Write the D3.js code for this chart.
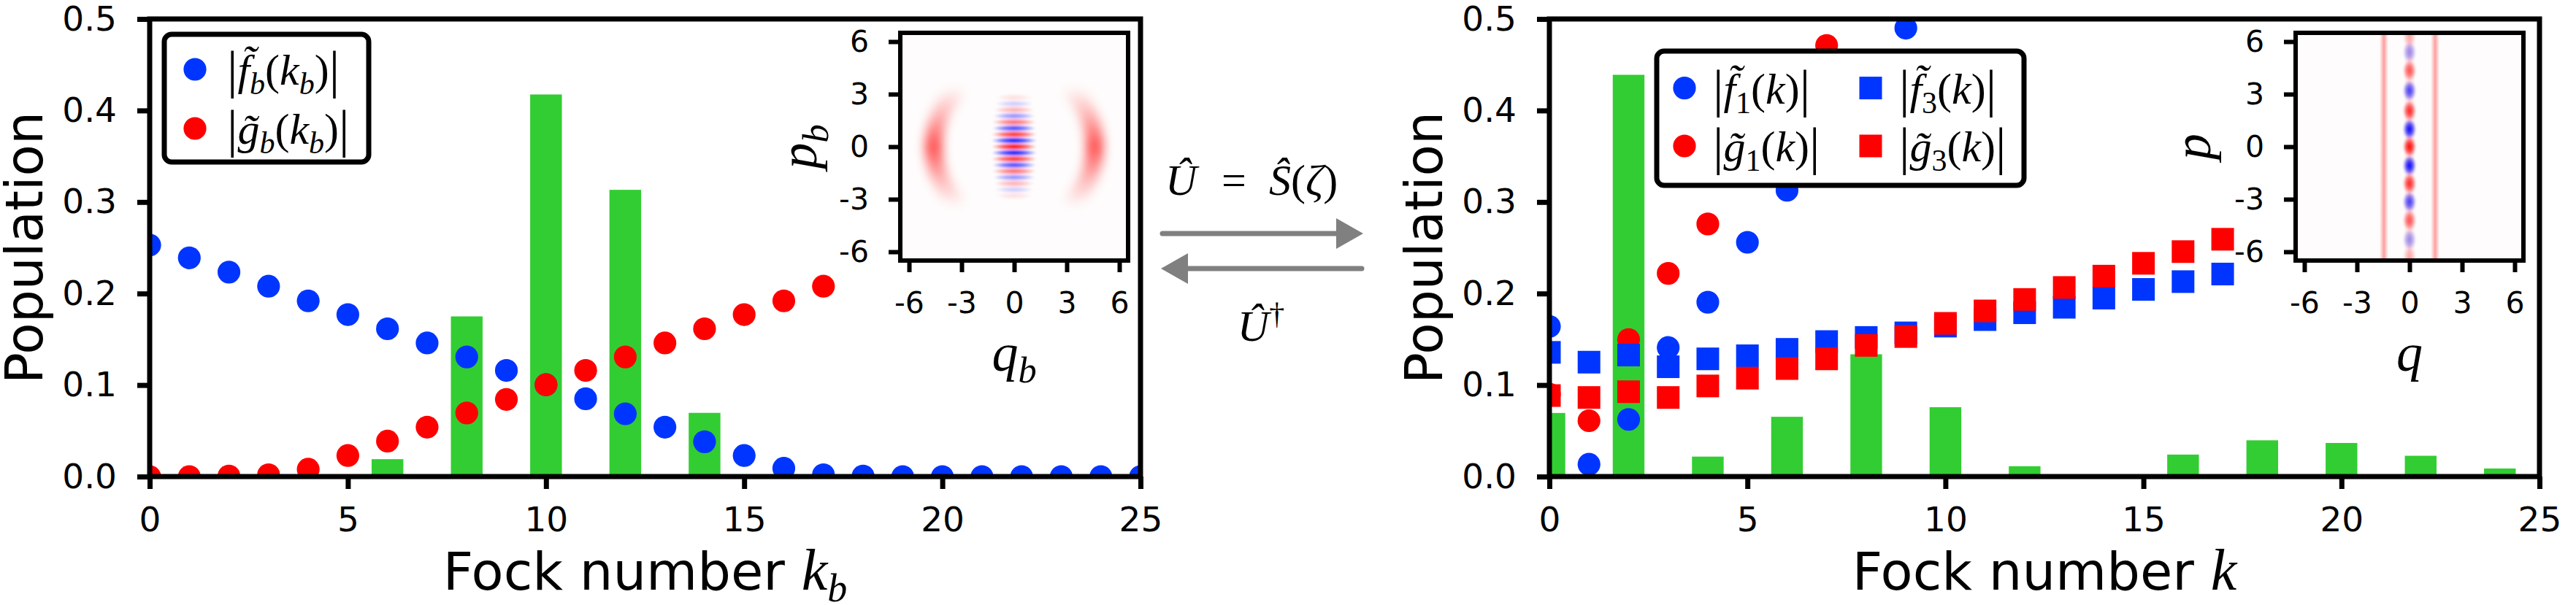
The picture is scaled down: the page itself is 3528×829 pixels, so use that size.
<!DOCTYPE html>
<html><head><meta charset="utf-8">
<script src="https://cdn.jsdelivr.net/npm/d3@7"></script>
<style>body{margin:0;background:#fff}svg{display:block}</style>
</head><body>
<svg id="fig" width="3528" height="829"></svg>
<script>
// ---------------- DATA ----------------
const xTicks = [0, 5, 10, 15, 20, 25];
const yTicks = [0, 0.1, 0.2, 0.3, 0.4, 0.5];
const insetTicks = [-6, -3, 0, 3, 6];

// left panel
const leftKf = [0,1,2,3,4,5,6,7,8,9,10,11,12,13,14,15,16,17,18,19,20,21,22,23,24,25];
const leftF  = [0.253,0.239,0.2234,0.208,0.192,0.177,0.1615,0.146,0.1307,0.116,0.1003,0.085,0.0686,0.054,0.038,0.023,0.009,0.002,0.0005,0,0,0,0,0,0,0];
const leftKg = [0,1,2,3,4,5,6,7,8,9,10,11,12,13,14,15,16,17];
const leftG  = [0,0,0.0005,0.002,0.008,0.023,0.0387,0.054,0.0695,0.0843,0.1003,0.116,0.1307,0.146,0.1615,0.177,0.192,0.208];
const leftBarK = [6, 8, 10, 12, 14];
const leftBarV = [0.019, 0.175, 0.4175, 0.3133, 0.0696];

// right panel
const rightK1 = [0,1,2,3,4,5,6,7,8,9];
const rightF1 = [0.164,0.0134,0.0624,0.141,0.1905,0.256,0.3128,0.38,0.44,0.49];
const rightKg1 = [0,1,2,3,4,5,6,7];
const rightG1 = [0.09,0.061,0.1497,0.222,0.276,0.345,0.41,0.471];
const rightK3 = [0,1,2,3,4,5,6,7,8,9,10,11,12,13,14,15,16,17];
const rightF3 = [0.1357,0.125,0.1328,0.120,0.1286,0.132,0.139,0.1475,0.152,0.157,0.1644,0.1715,0.179,0.185,0.195,0.2045,0.213,0.2213];
const rightG3 = [0.0885,0.0864,0.0927,0.0864,0.099,0.1075,0.118,0.1286,0.1433,0.153,0.1674,0.181,0.1935,0.2066,0.219,0.233,0.2458,0.2593];
const rightBarK = [0, 2, 4, 6, 8, 10, 12, 16, 18, 20, 22, 24];
const rightBarV = [0.0695,0.439,0.0218,0.0653,0.1336,0.0758,0.0113,0.024,0.0396,0.0367,0.0227,0.0088];

// inset (Wigner function) features
const leftLobeQ = [-4.6, 4.6];          // red crescent lobes (q at p=0)
const leftFringeP   = [2.8,2.45,2.1,1.75,1.4,1.05,0.7,0.35,0,-0.35,-0.7,-1.05,-1.4,-1.75,-2.1,-2.45,-2.8];
const leftFringeSgn = [1,-1,1,-1,1,-1,1,-1,1,-1,1,-1,1,-1,1,-1,1];
const leftFringeAmp = [0.12,0.2,0.32,0.45,0.6,0.75,0.85,0.95,1.0,0.95,0.85,0.75,0.6,0.45,0.32,0.2,0.12];
const leftFringeHalfW = [1.05,1.1,1.15,1.2,1.25,1.25,1.3,1.3,1.3,1.3,1.3,1.25,1.25,1.2,1.15,1.1,1.05];
const rightLineQ = [-1.46, 1.46];      // thin red vertical lines
const rightBlobP   = [6.3,5.4,4.35,3.2,2.05,1.0,0,-1.08,-2.1,-3.15,-4.2,-5.3,-6.3];
const rightBlobSgn = [1,-1,1,-1,1,-1,1,-1,1,-1,1,-1,1];
const rightBlobAmp = [0.25,0.4,0.65,0.75,0.85,1.0,1.0,1.0,0.85,0.75,0.65,0.4,0.25];

// ---------------- STYLE ----------------
const BLUE = '#0035ff', RED = '#ff0000', GREEN = '#32cd32', GRAY = '#808080';
const SANS = 'DejaVu Sans', SERIF = 'Liberation Serif';
const Y0 = 653, Y1 = 26;

const svg = d3.select('#fig');
svg.append('rect').attr('width', 3528).attr('height', 829).attr('fill', '#fff');
const defs = svg.append('defs');

// gradients / filters
function radial(id, color) {
  const g = defs.append('radialGradient').attr('id', id);
  g.append('stop').attr('offset', '0%').attr('stop-color', color).attr('stop-opacity', 1);
  g.append('stop').attr('offset', '50%').attr('stop-color', color).attr('stop-opacity', 0.65);
  g.append('stop').attr('offset', '100%').attr('stop-color', color).attr('stop-opacity', 0);
}
radial('radRed', '#ff0000');
radial('radBlue', '#0000ff');
const hg = defs.append('linearGradient').attr('id', 'hRed').attr('x1', 0).attr('x2', 1).attr('y1', 0).attr('y2', 0);
hg.append('stop').attr('offset', '0%').attr('stop-color', '#ff0000').attr('stop-opacity', 0);
hg.append('stop').attr('offset', '50%').attr('stop-color', '#ff0000').attr('stop-opacity', 0.5);
hg.append('stop').attr('offset', '100%').attr('stop-color', '#ff0000').attr('stop-opacity', 0);
defs.append('filter').attr('id', 'blurS').attr('x', '-50%').attr('y', '-50%').attr('width', '200%').attr('height', '200%')
  .append('feGaussianBlur').attr('stdDeviation', 1.6);
defs.append('filter').attr('id', 'blurL').attr('x', '-50%').attr('y', '-50%').attr('width', '200%').attr('height', '200%')
  .append('feGaussianBlur').attr('stdDeviation', 7);

// math-like text helper
function mathText(sel, parts, fs) {
  const t = sel.append('text').attr('font-family', SERIF).attr('font-size', fs).attr('fill', '#000');
  let cur = 0;
  parts.forEach(p => {
    const ts = t.append('tspan').text(p.t);
    let shift = p.sub ? 0.22 * fs : (p.sup ? -0.38 * fs : 0);
    if (p.bar) shift = 0.06 * fs;
    ts.attr('dy', shift - cur); cur = shift;
    if (p.it) ts.attr('font-style', 'italic');
    if (p.sub || p.sup) ts.attr('font-size', fs * 0.7);
    if (p.bar) ts.attr('font-size', fs * 1.2);
    if (p.font) ts.attr('font-family', p.font);
    if (p.fs) ts.attr('font-size', p.fs);
    if (p.dx) ts.attr('dx', p.dx);
  });
  return t;
}

function panel(cfg) {
  const x = d3.scaleLinear().domain([0, 25]).range([cfg.x0, cfg.x1]);
  const y = d3.scaleLinear().domain([0, 0.5]).range([Y0, Y1]);
  const g = svg.append('g');
  defs.append('clipPath').attr('id', cfg.id).append('rect')
    .attr('x', cfg.x0).attr('y', Y1).attr('width', cfg.x1 - cfg.x0).attr('height', Y0 - Y1);
  const plot = g.append('g').attr('clip-path', `url(#${cfg.id})`);
  // bars
  plot.selectAll('rect.bar').data(d3.zip(cfg.barK, cfg.barV)).join('rect')
    .attr('x', d => x(d[0] - 0.4)).attr('width', x(0.8) - x(0))
    .attr('y', d => y(d[1])).attr('height', d => y(0) - y(d[1])).attr('fill', GREEN);
  // circle series
  cfg.circles.forEach(s => {
    plot.append('g').selectAll('circle').data(d3.zip(s.k, s.v)).join('circle')
      .attr('cx', d => x(d[0])).attr('cy', d => y(d[1])).attr('r', 15.6).attr('fill', s.color);
  });
  (cfg.squares || []).forEach(s => {
    plot.append('g').selectAll('rect').data(d3.zip(s.k, s.v)).join('rect')
      .attr('x', d => x(d[0]) - 15.5).attr('y', d => y(d[1]) - 15.5)
      .attr('width', 31).attr('height', 31).attr('fill', s.color);
  });
  // axes
  const ax = g.append('g').attr('transform', `translate(0,${Y0})`)
    .call(d3.axisBottom(x).tickValues(xTicks).tickSize(17).tickPadding(25).tickFormat(d3.format('d')));
  const ay = g.append('g').attr('transform', `translate(${cfg.x0},0)`)
    .call(d3.axisLeft(y).tickValues(yTicks).tickSize(17).tickPadding(28).tickFormat(d3.format('.1f')));
  [ax, ay].forEach(a => {
    a.attr('font-size', 47).attr('font-family', SANS);
    a.select('.domain').remove();
    a.selectAll('line').attr('stroke', '#000').attr('stroke-width', 7);
    a.selectAll('text').attr('fill', '#000');
  });
  g.append('rect').attr('x', cfg.x0).attr('y', Y1).attr('width', cfg.x1 - cfg.x0).attr('height', Y0 - Y1)
    .attr('fill', 'none').attr('stroke', '#000').attr('stroke-width', 7);
  // axis labels
  g.append('text').attr('transform', `translate(${cfg.x0 - 147},${(Y0 + Y1) / 2}) rotate(-90)`)
    .attr('text-anchor', 'middle').attr('font-family', SANS).attr('font-size', 71).text('Population');
  mathText(g, cfg.xlabel, 72).attr('text-anchor', 'middle')
    .attr('x', (cfg.x0 + cfg.x1) / 2).attr('y', 808);
  return { x, y, g };
}

// ---------------- LEFT PANEL ----------------
panel({
  id: 'clipL', x0: 205, x1: 1562,
  barK: leftBarK, barV: leftBarV,
  circles: [{ k: leftKf, v: leftF, color: BLUE }, { k: leftKg, v: leftG, color: RED }],
  xlabel: [{ t: 'Fock number ', font: SANS }, { t: 'k', it: true, fs: 80 }, { t: 'b', it: true, sub: true, fs: 54 }]
});
// ---------------- RIGHT PANEL ----------------
panel({
  id: 'clipR', x0: 2122, x1: 3478,
  barK: rightBarK, barV: rightBarV,
  circles: [{ k: rightK1, v: rightF1, color: BLUE }, { k: rightKg1, v: rightG1, color: RED }],
  squares: [{ k: rightK3, v: rightF3, color: BLUE }, { k: rightK3, v: rightG3, color: RED }],
  xlabel: [{ t: 'Fock number ', font: SANS }, { t: 'k', it: true, fs: 80 }]
});

// ---------------- LEGENDS ----------------
function legendBox(x, y, w, h) {
  svg.append('rect').attr('x', x).attr('y', y).attr('width', w).attr('height', h).attr('rx', 10)
    .attr('fill', '#fff').attr('stroke', '#000').attr('stroke-width', 7);
}
function lab(sym, sub, arg) {
  return [{ t: '|', bar: true }, { t: sym, it: true }, { t: sub, it: sub !== '1' && sub !== '3', sub: true },
          { t: '(' }, { t: 'k', it: true }].concat(arg ? [{ t: arg, it: true, sub: true }] : [])
          .concat([{ t: ')' }, { t: '|', bar: true }]);
}
legendBox(225, 47, 280, 175);
svg.append('circle').attr('cx', 267).attr('cy', 95).attr('r', 15.6).attr('fill', BLUE);
svg.append('circle').attr('cx', 267).attr('cy', 176).attr('r', 15.6).attr('fill', RED);
mathText(svg, lab('f\u0303', 'b', 'b'), 60).attr('x', 311).attr('y', 116);
mathText(svg, lab('g\u0303', 'b', 'b'), 60).attr('x', 311).attr('y', 197);

legendBox(2269, 70, 503, 184);
svg.append('circle').attr('cx', 2307).attr('cy', 120.6).attr('r', 15.6).attr('fill', BLUE);
svg.append('circle').attr('cx', 2307).attr('cy', 200).attr('r', 15.6).attr('fill', RED);
svg.append('rect').attr('x', 2562 - 15.5).attr('y', 120.6 - 15.5).attr('width', 31).attr('height', 31).attr('fill', BLUE);
svg.append('rect').attr('x', 2562 - 15.5).attr('y', 200 - 15.5).attr('width', 31).attr('height', 31).attr('fill', RED);
mathText(svg, lab('f\u0303', '1', null), 60).attr('x', 2346).attr('y', 142);
mathText(svg, lab('g\u0303', '1', null), 60).attr('x', 2346).attr('y', 221);
mathText(svg, lab('f\u0303', '3', null), 60).attr('x', 2601).attr('y', 142);
mathText(svg, lab('g\u0303', '3', null), 60).attr('x', 2601).attr('y', 221);

// ---------------- INSETS ----------------
function inset(cfg) {
  const q = d3.scaleLinear().domain([-6.5, 6.5]).range([cfg.x0, cfg.x0 + 312]);
  const p = d3.scaleLinear().domain([-6.5, 6.5]).range([357, 45]);
  const g = svg.append('g');
  defs.append('clipPath').attr('id', cfg.id).append('rect').attr('x', cfg.x0).attr('y', 45).attr('width', 312).attr('height', 312);
  g.append('rect').attr('x', cfg.x0).attr('y', 45).attr('width', 312).attr('height', 312).attr('fill', '#fefcfc');
  const img = g.append('g').attr('clip-path', `url(#${cfg.id})`);
  cfg.draw(img, q, p);
  const ax = g.append('g').attr('transform', 'translate(0,357)')
    .call(d3.axisBottom(q).tickValues(insetTicks).tickSize(16).tickPadding(27).tickFormat(d => String(d)));
  const ay = g.append('g').attr('transform', `translate(${cfg.x0},0)`)
    .call(d3.axisLeft(p).tickValues(insetTicks).tickSize(16).tickPadding(27).tickFormat(d => String(d)));
  [ax, ay].forEach(a => {
    a.attr('font-size', 41).attr('font-family', SANS);
    a.select('.domain').remove();
    a.selectAll('line').attr('stroke', '#000').attr('stroke-width', 6);
    a.selectAll('text').attr('fill', '#000');
  });
  g.append('rect').attr('x', cfg.x0).attr('y', 45).attr('width', 312).attr('height', 312)
    .attr('fill', 'none').attr('stroke', '#000').attr('stroke-width', 6);
  mathText(g, cfg.qlab, 72).attr('text-anchor', 'middle').attr('x', q(0)).attr('y', 508);
  mathText(g, cfg.plab, 72).attr('text-anchor', 'middle')
    .attr('transform', `translate(${cfg.px},${p(0)}) rotate(-90)`);
}

inset({
  id: 'clipIL', x0: 1233, px: 1118,
  qlab: [{ t: 'q', it: true }, { t: 'b', it: true, sub: true }],
  plab: [{ t: 'p', it: true }, { t: 'b', it: true, sub: true }],
  draw: (img, q, p) => {
    const sc = q(1) - q(0);
    const cx = q(0), cy = p(0);
    // crescent lobes
    const lg = defs.append('linearGradient').attr('id', 'lobeGrad').attr('gradientUnits', 'userSpaceOnUse')
      .attr('x1', 0).attr('x2', 0).attr('y1', p(3.4)).attr('y2', p(-3.4));
    [[0, 0], [0.25, 0.3], [0.5, 0.68], [0.75, 0.3], [1, 0]].forEach(s =>
      lg.append('stop').attr('offset', s[0]).attr('stop-color', '#ff0000').attr('stop-opacity', s[1]));
    const lobes = img.append('g').attr('filter', 'url(#blurL)');
    leftLobeQ.forEach(lq => {
      const Rr = Math.abs(lq) * sc, sgn = Math.sign(lq);
      const arc = d3.range(-42, 43, 3).map(a => [cx + sgn * Rr * Math.cos(a * Math.PI / 180), cy + Rr * Math.sin(a * Math.PI / 180)]);
      lobes.append('path').attr('d', d3.line().curve(d3.curveBasis)(arc)).attr('fill', 'none')
        .attr('stroke', 'url(#lobeGrad)').attr('stroke-width', 24).attr('stroke-linecap', 'round');
    });
    // interference fringes
    const fr = img.append('g').attr('filter', 'url(#blurS)');
    fr.selectAll('ellipse').data(d3.range(leftFringeP.length)).join('ellipse')
      .attr('cx', cx).attr('cy', i => p(leftFringeP[i]))
      .attr('rx', i => leftFringeHalfW[i] * sc).attr('ry', 5)
      .attr('fill', i => leftFringeSgn[i] > 0 ? 'url(#radRed)' : 'url(#radBlue)')
      .attr('opacity', i => leftFringeAmp[i]);
  }
});

inset({
  id: 'clipIR', x0: 3144, px: 3027,
  qlab: [{ t: 'q', it: true }],
  plab: [{ t: 'p', it: true }],
  draw: (img, q, p) => {
    const cx = q(0);
    img.selectAll('rect.vl').data(rightLineQ).join('rect')
      .attr('x', d => q(d) - 6).attr('width', 12).attr('y', 40).attr('height', 322)
      .attr('fill', 'url(#hRed)').attr('opacity', 0.75);
    img.append('rect').attr('x', cx - 8).attr('width', 16).attr('y', 40).attr('height', 322)
      .attr('fill', 'url(#hRed)').attr('opacity', 0.3);
    const bl = img.append('g').attr('filter', 'url(#blurS)');
    bl.selectAll('ellipse').data(d3.range(rightBlobP.length)).join('ellipse')
      .attr('cx', cx).attr('cy', i => p(rightBlobP[i]))
      .attr('rx', 9).attr('ry', 14)
      .attr('fill', i => rightBlobSgn[i] > 0 ? 'url(#radRed)' : 'url(#radBlue)')
      .attr('opacity', i => rightBlobAmp[i]);
  }
});

// ---------------- ARROWS ----------------
const arr = svg.append('g');
arr.append('line').attr('x1', 1592).attr('x2', 1832).attr('y1', 320).attr('y2', 320)
  .attr('stroke', GRAY).attr('stroke-width', 7).attr('stroke-linecap', 'round');
arr.append('path').attr('d', 'M1830,299 L1867,320 L1830,341 Z').attr('fill', GRAY);
arr.append('line').attr('x1', 1865).attr('x2', 1625).attr('y1', 368).attr('y2', 368)
  .attr('stroke', GRAY).attr('stroke-width', 7).attr('stroke-linecap', 'round');
arr.append('path').attr('d', 'M1627,347 L1590,368 L1627,389 Z').attr('fill', GRAY);
mathText(arr, [{ t: 'Û', it: true }], 60).attr('x', 1596).attr('y', 267);
mathText(arr, [{ t: '=' }], 60).attr('x', 1690).attr('y', 267).attr('text-anchor', 'middle');
mathText(arr, [{ t: 'Ŝ', it: true }, { t: '(' }, { t: 'ζ', it: true }, { t: ')' }], 60).attr('x', 1738).attr('y', 267);
mathText(arr, [{ t: 'Û', it: true }, { t: '†', sup: true }], 60).attr('x', 1727).attr('y', 467).attr('text-anchor', 'middle');
</script>
</body></html>
